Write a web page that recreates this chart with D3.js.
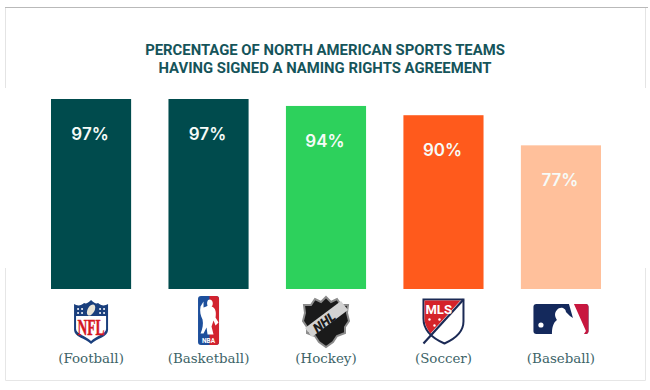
<!DOCTYPE html>
<html>
<head>
<meta charset="utf-8">
<script src="https://cdn.jsdelivr.net/npm/d3@7"></script>
<style>
  html, body { margin: 0; padding: 0; background: #fff; }
  svg { display: block; }
</style>
</head>
<body>
<svg id="chart" width="650" height="390"></svg>
<script>
// underlying data
const leagues = ["NFL", "NBA", "NHL", "MLS", "MLB"]
const sports = ["(Football)", "(Basketball)", "(Hockey)", "(Soccer)", "(Baseball)"]
const shares = [97, 97, 94, 90, 77]
const colors = ["#004b4d", "#004b4d", "#2dd15c", "#ff5a1c", "#ffc09b"]
const title_lines = ["PERCENTAGE OF NORTH AMERICAN SPORTS TEAMS", "HAVING SIGNED A NAMING RIGHTS AGREEMENT"]

const svg = d3.select("#chart")

// create the scales
const x = d3.scaleBand().domain(leagues).range([51, 601]).paddingInner(0.318)
// bars are cut off at the bottom in the original, axis does not start at 0
const y = d3.scaleLinear().domain([15, 97]).range([289, 99])

// frame, broken around the bars
const frame = svg.append("g").attr("fill", "none")
frame.append("path").attr("d", "M5.5 88V7.5H645.5V88").attr("stroke", "#e4e4e4")
frame.append("path").attr("d", "M5 7.5H648").attr("stroke", "#b9b9b9")
frame.append("path").attr("d", "M5.5 268V380.5H645.5V268").attr("stroke", "#e6e6e6")

// plot title
svg.append("g").selectAll("text")
  .data(title_lines).enter()
  .append("text")
  .attr("x", 325)
  .attr("y", (d, i) => 54.5 + i * 18)
  .attr("text-anchor", "middle")
  .attr("font-family", "Roboto")
  .attr("font-weight", 700)
  .attr("font-size", 14.85)
  .attr("fill", "#15545a")
  .text(d => d)

// create the barchart
const rows = leagues.map((d, i) => ({ league: d, sport: sports[i], share: shares[i], color: colors[i] }))

svg.append("g").selectAll("rect")
  .data(rows).enter()
  .append("rect")
  .attr("x", d => x(d.league))
  .attr("y", d => y(d.share))
  .attr("width", x.bandwidth())
  .attr("height", d => y.range()[0] - y(d.share))
  .attr("fill", d => d.color)

// value labels
svg.append("g").selectAll("text")
  .data(rows).enter()
  .append("text")
  .attr("x", d => x(d.league) + x.bandwidth() / 2 - 1)
  .attr("y", d => y(d.share) + 41)
  .attr("text-anchor", "middle")
  .attr("font-family", "Inter")
  .attr("font-weight", 600)
  .attr("font-size", 17)
  .attr("fill", "#f6fbf8")
  .text(d => d.share + "%")

// sport labels
svg.append("g").selectAll("text")
  .data(rows).enter()
  .append("text")
  .attr("x", d => x(d.league) + x.bandwidth() / 2)
  .attr("y", 363)
  .attr("text-anchor", "middle")
  .attr("font-family", "DejaVu Serif")
  .attr("font-size", 13.4)
  .attr("fill", "#3d6468")
  .text(d => d.sport)

// league logos, drawn around the centre of each band
const logos = {
  NFL(g) {
    const shield = "M0 -22C3 -19 5 -18 7 -19C10 -16 14 -16 17 -18V8C17 15 6 16 0 22C-6 16 -17 15 -17 8V-18C-14 -16 -10 -16 -7 -19C-5 -18 -3 -19 0 -22Z"
    g.append("path").attr("d", shield).attr("fill", "#1a3f7d")
    g.append("path").attr("d", "M-15 -6H15V7C15 12 5 14 0 19C-5 14 -15 12 -15 7Z").attr("fill", "#fff")
    g.append("text").attr("y", 13).attr("text-anchor", "middle")
      .attr("font-family", "Liberation Serif").attr("font-weight", 700).attr("font-size", 23)
      .attr("textLength", 27).attr("lengthAdjust", "spacingAndGlyphs")
      .attr("fill", "#d5161f").attr("stroke", "#d5161f").attr("stroke-width", 0.5).text("NFL")
    g.append("ellipse").attr("cx", 0).attr("cy", -12).attr("rx", 3.4).attr("ry", 6)
      .attr("transform", "rotate(30 0 -12)").attr("fill", "#e8e3d6")
    for (const sx of [-13, -9, 9, 13]) {
      for (const sy of [-13, -9]) {
        g.append("circle").attr("cx", sx).attr("cy", sy).attr("r", 1).attr("fill", "#fff")
      }
    }
  },
  NBA(g) {
    g.append("rect").attr("x", -10.5).attr("y", -24.5).attr("width", 21).attr("height", 49).attr("rx", 3).attr("fill", "#1d4f9c")
    g.append("path").attr("d", "M1 -24.5H7.5Q10.5 -24.5 10.5 -21.5V21.5Q10.5 24.5 7.5 24.5H1Z").attr("fill", "#d2232f")
    g.append("path").attr("d", "M1 -21C5 -21 5 -15 3 -14C7 -13 8 -8 7 -3L10 2L7 5L5 0L3 6L5 14H-1L-2 7L-5 13H-8C-6 8 -5 4 -6 -1C-8 -5 -9 -9 -8 -14L-5 -19L-5 -13C-3 -14 -1 -14 -1 -15C-2 -18 -1 -21 1 -21Z").attr("fill", "#fff")
    g.append("text").attr("y", 22.5).attr("text-anchor", "middle")
      .attr("font-family", "Roboto").attr("font-weight", 700).attr("font-size", 6.5)
      .attr("fill", "#fff").text("NBA")
  },
  NHL(g) {
    const shield = "M0 -25L5 -20L11 -23L15 -17L22 -17L21 -9L23 -1L19 5L19 11L11 14L7 20L0 25L-7 20L-11 14L-19 11L-19 5L-23 -1L-21 -9L-22 -17L-15 -17L-11 -23L-5 -20Z"
    g.append("path").attr("d", shield).attr("fill", "#1a1a1a").attr("stroke", "#8c8c8c").attr("stroke-width", 2)
    g.append("path").attr("d", "M-21 6L15 -21L22 -12L-14 15Z").attr("fill", "#d2d2d2")
    g.append("text").attr("transform", "translate(1,4) rotate(-37)").attr("text-anchor", "middle")
      .attr("font-family", "Roboto").attr("font-weight", 900).attr("font-style", "italic").attr("font-size", 13)
      .attr("fill", "#1a1a1a").text("NHL")
  },
  MLS(g) {
    g.append("path").attr("d", "M-20 -22H20V0C20 12 10 18 1 22C-6 19 -20 12 -20 -3Z").attr("fill", "#fff").attr("stroke", "#1b2a55").attr("stroke-width", 2)
    g.append("path").attr("d", "M-19 -21H17L-13 12C-16 8 -19 3 -19 -3Z").attr("fill", "#d5232a")
    g.append("path").attr("d", "M20 -22L-20 22").attr("stroke", "#1b2a55").attr("stroke-width", 2.2).attr("fill", "none")
    g.append("text").attr("x", -18).attr("y", -8).attr("font-family", "Roboto").attr("font-weight", 700)
      .attr("font-size", 13).attr("fill", "#fff").text("MLS")
    for (const p of [[-14, -2], [-4, -2], [-9, 4]]) {
      g.append("circle").attr("cx", p[0]).attr("cy", p[1]).attr("r", 1.2).attr("fill", "#fff")
    }
  },
  MLB(g) {
    g.append("rect").attr("x", -27.5).attr("y", -15).attr("width", 55).attr("height", 30).attr("rx", 3).attr("fill", "#14295c")
    g.append("path").attr("d", "M11 -15H24.5Q27.5 -15 27.5 -12V12Q27.5 15 24.5 15H18Z").attr("fill", "#c8173f")
    g.append("path").attr("d", "M-9 15C-9 9 -8 4 -4 1C-6 -2 -7 -6 -4 -9C-1 -13 5 -11 5 -7L9 -3L12 -1L8 -15L13 -15L25 12L23 15Z").attr("fill", "#fff")
    g.append("circle").attr("cx", -20).attr("cy", 6).attr("r", 2.6).attr("fill", "#fff")
  }
}

const logo_y = { NFL: 322, NBA: 320.5, NHL: 322, MLS: 321.5, MLB: 319 }
for (const league of leagues) {
  const g = svg.append("g")
    .attr("transform", `translate(${x(league) + x.bandwidth() / 2},${logo_y[league]})`)
  logos[league](g)
}
</script>
</body>
</html>
